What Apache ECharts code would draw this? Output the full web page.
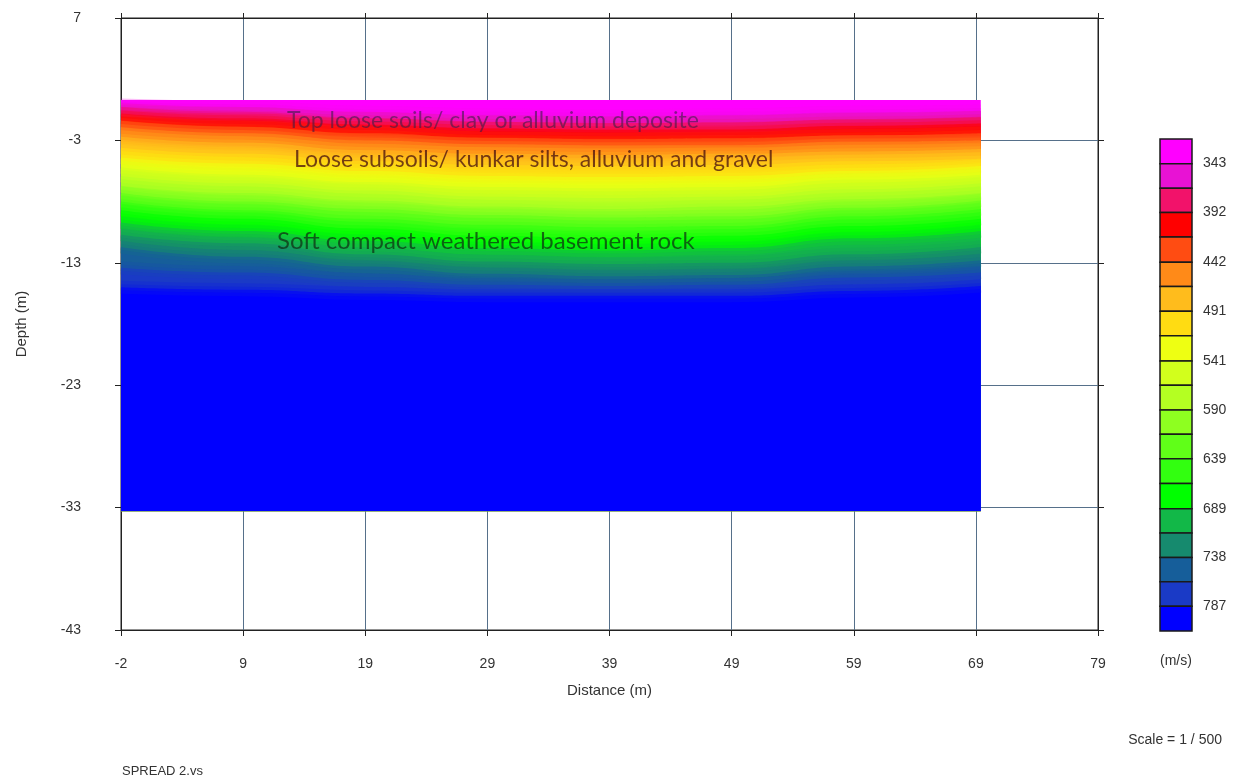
<!DOCTYPE html>
<html>
<head>
<meta charset="utf-8">
<script src="https://cdn.jsdelivr.net/npm/echarts@6/dist/echarts.min.js"></script>
<style>
    html, body { margin: 0; padding: 0; background: #fff; }
    #main { width: 1260px; height: 784px; }
</style>
</head>
<body>
<div id="main"></div>
<script>
// distance is measured in tick steps (one step = one labelled grid line)
const xTickLabels = ['-2', '9', '19', '29', '39', '49', '59', '69', '79'];
const stations = [0, 1, 2, 3, 4, 5, 6, 7.04];

// depth (m) of the top of the section and of its base
const surfaceDepth = [0.3, 0.3, 0.3, 0.3, 0.3, 0.3, 0.3, 0.3];
const baseDepth = -33.3;

// depth (m) of each colour boundary at the stations, top to bottom
const contour01 = [-0.1, -0.3, -0.7, -0.9, -1.0, -0.9, -0.7, -0.6];
const contour02 = [-0.5, -0.8, -1.2, -1.5, -1.6, -1.5, -1.3, -1.1];
const contour03 = [-0.8, -1.2, -1.7, -2.0, -2.1, -2.1, -1.8, -1.6];
const contour04 = [-1.4, -1.9, -2.4, -2.8, -2.9, -2.8, -2.6, -2.4];
const contour05 = [-1.9, -2.4, -3.0, -3.3, -3.4, -3.4, -3.1, -3.0];
const contour06 = [-2.7, -3.2, -3.8, -4.1, -4.2, -4.1, -3.9, -3.7];
const contour07 = [-3.6, -4.1, -4.7, -5.0, -5.1, -5.0, -4.7, -4.5];
const contour08 = [-4.4, -4.9, -5.5, -5.9, -6.0, -5.9, -5.5, -5.1];
const contour09 = [-5.2, -5.8, -6.4, -6.8, -6.9, -6.8, -6.2, -5.8];
const contour10 = [-5.9, -6.5, -7.1, -7.6, -7.7, -7.6, -7.0, -6.5];
const contour11 = [-6.7, -7.3, -7.9, -8.4, -8.6, -8.4, -7.8, -7.3];
const contour12 = [-7.3, -8.0, -8.6, -9.1, -9.3, -9.2, -8.5, -7.9];
const contour13 = [-8.0, -8.7, -9.4, -9.9, -10.1, -10.0, -9.2, -8.6];
const contour14 = [-8.7, -9.4, -10.2, -10.8, -11.0, -10.8, -10.0, -9.4];
const contour15 = [-9.7, -10.4, -11.2, -11.8, -12.0, -11.8, -11.0, -10.4];
const contour16 = [-10.7, -11.4, -12.3, -12.9, -13.1, -13.0, -12.3, -11.7];
const contour17 = [-11.7, -12.5, -13.3, -13.9, -14.1, -14.0, -13.3, -12.8];
const contour18 = [-13.4, -13.8, -14.4, -14.8, -14.9, -14.8, -14.2, -13.8];
const contour19 = [-15.0, -15.2, -15.5, -15.7, -15.7, -15.7, -15.3, -14.9];

const bandColors = ['#ff00ff', '#e812d4', '#f2126a', '#ff0000', '#ff4c12', '#ff8a18', '#ffbc1c',
    '#ffdc12', '#eeff12', '#d2ff1c', '#b4ff22', '#8eff20', '#60ff18', '#32ff10', '#00ff00',
    '#12b848', '#168a6e', '#165e9a', '#1a3ac6', '#0000ff'];
// velocity (m/s) at the edges of the colour bands in the legend
const velocityEdges = [318.3, 343, 367.7, 392, 416.7, 442, 466.3, 491, 515.7, 541, 565.3,
    590, 614.3, 639, 663.7, 689, 713.3, 738, 762.3, 787, 811.7];
const velocityLabels = [343, 392, 442, 491, 541, 590, 639, 689, 738, 787];

const boundaries = [surfaceDepth, contour01, contour02, contour03, contour04, contour05, contour06,
    contour07, contour08, contour09, contour10, contour11, contour12, contour13, contour14,
    contour15, contour16, contour17, contour18, contour19];

const font = 'Liberation Sans';

// main plot frame and its axis ranges
const plot = {left: 121, top: 18, width: 977, height: 612};
const xRange = [0, 8];
const yRange = [-43, 7];

// a second grid laid exactly over the section so the fills are clipped to it
const sectionTop = Math.max.apply(null, surfaceDepth);
const xEnd = stations[stations.length - 1];
const sectionGrid = {
    left: plot.left + (stations[0] - xRange[0]) / (xRange[1] - xRange[0]) * plot.width,
    width: (xEnd - stations[0]) / (xRange[1] - xRange[0]) * plot.width,
    top: plot.top + (yRange[1] - sectionTop) / (yRange[1] - yRange[0]) * plot.height,
    height: (sectionTop - baseDepth) / (yRange[1] - yRange[0]) * plot.height
};

const chart = echarts.init(document.getElementById('main'));

function toPoints(depths) {
    return stations.map(function (x, i) {
        return [x, depths[i]];
    });
}

// filled bands: each boundary fills down to the base in the colour below it
let series = boundaries.map(function (depths, k) {
    return {
        type: 'line',
        xAxisIndex: 3,
        yAxisIndex: 3,
        smooth: true,
        smoothMonotone: 'x',
        symbol: 'none',
        silent: true,
        clip: true,
        z: 2,
        lineStyle: {width: 0},
        areaStyle: {color: bandColors[k], opacity: 1, origin: baseDepth},
        data: toPoints(depths)
    };
});

// soft strokes along each boundary so neighbouring colours blend like the gridded image
const softPasses = [{width: 13, opacity: 0.28}, {width: 6, opacity: 0.42}];
boundaries.forEach(function (depths, k) {
    if (k === 0) return;
    let mid = echarts.color.lerp(0.5, [bandColors[k - 1], bandColors[k]]);
    softPasses.forEach(function (p) {
        series.push({
            type: 'line',
            xAxisIndex: 3,
            yAxisIndex: 3,
            smooth: true,
            smoothMonotone: 'x',
            symbol: 'none',
            silent: true,
            clip: true,
            z: 3,
            lineStyle: {width: p.width, color: mid, opacity: p.opacity, cap: 'butt'},
            data: toPoints(depths)
        });
    });
});

series.push({
    type: 'custom',
    xAxisIndex: 2,
    yAxisIndex: 2,
    silent: true,
    encode: {x: 0, y: [1, 2]},
    data: velocityEdges.slice(0, -1).map(function (v, i) {
        return [0, v, velocityEdges[i + 1], i];
    }),
    renderItem: function (params, api) {
        let a = api.coord([0, api.value(1)]);
        let b = api.coord([1, api.value(2)]);
        return {
            type: 'rect',
            shape: {x: a[0], y: Math.min(a[1], b[1]), width: b[0] - a[0], height: Math.abs(b[1] - a[1])},
            style: {fill: bandColors[api.value(3)], stroke: '#1a1a1a', lineWidth: 1.5}
        };
    }
});

chart.setOption({
    animation: false,
    backgroundColor: '#fff',
    grid: [
        {left: plot.left, top: plot.top, width: plot.width, height: plot.height,
            show: true, borderColor: '#222', borderWidth: 1},
        {left: 1160, top: 139, width: 32, height: 492},
        sectionGrid
    ],
    xAxis: [
        {
            type: 'value', gridIndex: 0, min: xRange[0], max: xRange[1], interval: 1,
            name: 'Distance (m)', nameLocation: 'middle', nameGap: 53,
            nameTextStyle: {fontFamily: font, fontSize: 15, color: '#333'},
            axisLine: {onZero: false, lineStyle: {color: '#222'}},
            axisTick: {length: 6, lineStyle: {color: '#222'}},
            axisLabel: {
                margin: 27, fontFamily: font, fontSize: 14, color: '#333',
                formatter: function (v) { return xTickLabels[Math.round(v)]; }
            },
            splitLine: {show: true, lineStyle: {color: '#56708a', width: 1}}
        },
        {
            type: 'value', gridIndex: 0, min: xRange[0], max: xRange[1], interval: 1, position: 'top',
            axisLine: {onZero: false, lineStyle: {color: '#222'}},
            axisTick: {length: 5, lineStyle: {color: '#222'}},
            axisLabel: {show: false},
            splitLine: {show: false}
        },
        {
            type: 'value', gridIndex: 1, min: 0, max: 1, show: false
        },
        {
            type: 'value', gridIndex: 2, min: stations[0], max: xEnd, show: false
        }
    ],
    yAxis: [
        {
            type: 'value', gridIndex: 0, min: yRange[0], max: yRange[1], interval: 10,
            name: 'Depth (m)', nameLocation: 'middle', nameGap: 92, nameRotate: 90,
            nameTextStyle: {fontFamily: font, fontSize: 15, color: '#333'},
            axisLine: {show: true, onZero: false, lineStyle: {color: '#222'}},
            axisTick: {show: true, length: 6, lineStyle: {color: '#222'}},
            axisLabel: {margin: 40, fontFamily: font, fontSize: 14, color: '#333'},
            splitLine: {show: true, lineStyle: {color: '#56708a', width: 1}}
        },
        {
            type: 'value', gridIndex: 0, min: yRange[0], max: yRange[1], interval: 10, position: 'right',
            axisLine: {show: true, onZero: false, lineStyle: {color: '#222'}},
            axisTick: {show: true, length: 6, lineStyle: {color: '#222'}},
            axisLabel: {show: false},
            splitLine: {show: false}
        },
        {
            type: 'value', gridIndex: 1, min: 318.3, max: 811.7, inverse: true, position: 'right',
            axisLine: {show: false},
            axisTick: {show: false},
            splitLine: {show: false},
            axisLabel: {
                customValues: velocityLabels, margin: 11,
                fontFamily: font, fontSize: 14, color: '#333'
            }
        },
        {
            type: 'value', gridIndex: 2, min: baseDepth, max: sectionTop, show: false
        }
    ],
    graphic: [
        {
            type: 'text', left: 287, top: 109, z: 100, silent: true,
            style: {text: 'Top loose soils/ clay or alluvium deposite', fontFamily: 'Lato', fontSize: 23,
                fill: 'rgba(60,30,70,0.6)'}
        },
        {
            type: 'text', left: 294, top: 148, z: 100, silent: true,
            style: {text: 'Loose subsoils/ kunkar silts, alluvium and gravel', fontFamily: 'Lato', fontSize: 23,
                fill: 'rgba(70,15,15,0.75)'}
        },
        {
            type: 'text', left: 277, top: 229, z: 100, silent: true,
            style: {text: 'Soft compact weathered basement rock', fontFamily: 'Lato', fontSize: 24,
                fill: 'rgba(15,45,20,0.72)'}
        },
        {
            type: 'text', left: 1160, top: 654, z: 100,
            style: {text: '(m/s)', fontFamily: font, fontSize: 14, fill: '#333'}
        },
        {
            type: 'text', right: 38, top: 733, z: 100,
            style: {text: 'Scale = 1 / 500', fontFamily: font, fontSize: 14, fill: '#333'}
        },
        {
            type: 'text', left: 122, top: 765, z: 100,
            style: {text: 'SPREAD 2.vs', fontFamily: font, fontSize: 13, fill: '#333'}
        }
    ],
    series: series
});
</script>
</body>
</html>
